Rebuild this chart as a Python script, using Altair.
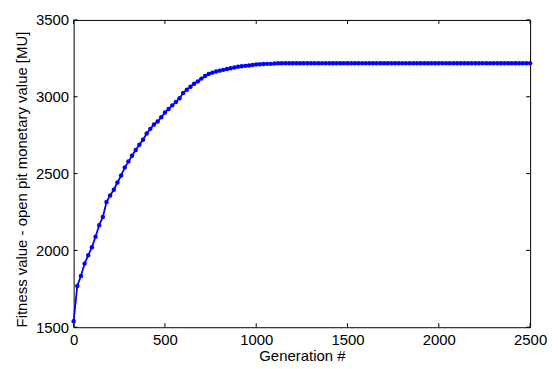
import altair as alt
import pandas as pd

# Generation index (every 20 generations)
generations = list(range(0, 2520, 20))

# Fitness values
fitness = [
    1539, 1769, 1834, 1914, 1968, 2021, 2089, 2164, 2218, 2315,
    2358, 2395, 2442, 2487, 2539, 2578, 2616, 2653, 2688, 2720,
    2761, 2791, 2820, 2839, 2867, 2897, 2920, 2944, 2966, 2990,
    3025, 3045, 3065, 3085, 3100, 3118, 3135, 3148, 3157, 3165,
    3170, 3175, 3180, 3185, 3190, 3195, 3198, 3201, 3204, 3207,
    3210, 3212, 3213, 3214, 3214, 3216, 3218, 3218, 3218, 3218,
    3218, 3218, 3218, 3218, 3218, 3218, 3218, 3218, 3218, 3218,
    3218, 3218, 3218, 3218, 3218, 3218, 3218, 3218, 3218, 3218,
    3218, 3218, 3218, 3218, 3218, 3218, 3218, 3218, 3218, 3218,
    3218, 3218, 3218, 3218, 3218, 3218, 3218, 3218, 3218, 3218,
    3218, 3218, 3218, 3218, 3218, 3218, 3218, 3218, 3218, 3218,
    3218, 3218, 3218, 3218, 3218, 3218, 3218, 3218, 3218, 3218,
    3218, 3218, 3218, 3218, 3218, 3218,
]

x_ticks = [0, 500, 1000, 1500, 2000, 2500]
y_ticks = [1500, 2000, 2500, 3000, 3500]

x_title = "Generation #"
y_title = "Fitness value - open pit monetary value [MU]"

W, H = 459, 309
FONT = "Liberation Sans"
BLUE = "#0000FF"

df = pd.DataFrame({"gen": generations, "fit": fitness})
xt = pd.DataFrame({"gen": x_ticks})
yt = pd.DataFrame({"fit": y_ticks})

xscale = alt.Scale(domain=[0, 2500], nice=False, zero=False)
yscale = alt.Scale(domain=[1500, 3500], nice=False, zero=False)

xaxis = alt.Axis(values=x_ticks, format="d", tickSize=0, labelPadding=5,
                 labelFlush=False, titlePadding=1, domain=False, grid=False)
yaxis = alt.Axis(values=y_ticks, format="d", tickSize=0, labelPadding=5,
                 labelFlush=False, titlePadding=6, titleY=160,
                 domain=False, grid=False)

X = alt.X("gen:Q", scale=xscale, title=x_title, axis=xaxis)
Y = alt.Y("fit:Q", scale=yscale, title=y_title, axis=yaxis)

line = alt.Chart(df).mark_line(
    color=BLUE, strokeWidth=1.8,
    point=alt.OverlayMarkDef(color=BLUE, size=20, filled=True, opacity=1),
).encode(x=X, y=Y)

tick_len = 4
bottom_ticks = alt.Chart(xt).mark_rule(color="black", strokeWidth=1).encode(
    x=X, y=alt.value(H), y2=alt.value(H - tick_len))
top_ticks = alt.Chart(xt).mark_rule(color="black", strokeWidth=1).encode(
    x=X, y=alt.value(0), y2=alt.value(tick_len))
left_ticks = alt.Chart(yt).mark_rule(color="black", strokeWidth=1).encode(
    y=Y, x=alt.value(0), x2=alt.value(tick_len))
right_ticks = alt.Chart(yt).mark_rule(color="black", strokeWidth=1).encode(
    y=Y, x=alt.value(W), x2=alt.value(W - tick_len))

chart = alt.layer(line, bottom_ticks, top_ticks, left_ticks, right_ticks).properties(
    width=W, height=H,
    autosize=alt.AutoSizeParams(type="none"),
    padding={"left": 66, "top": 11, "right": 20, "bottom": 40},
).configure_view(
    stroke="black", strokeWidth=1
).configure_axis(
    labelFont=FONT, titleFont=FONT, labelFontSize=15, titleFontSize=15,
    labelColor="black", titleColor="black", titleFontWeight="normal",
)

chart.save("out.html", embed_options={"renderer": "svg", "actions": False})
